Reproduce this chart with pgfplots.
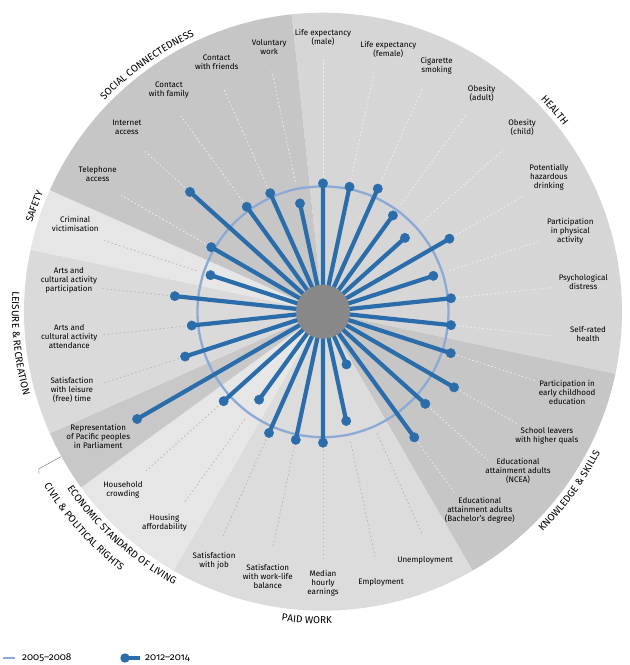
\documentclass[border=0pt]{standalone}
\usepackage{fontspec}
\setmainfont{Fira Sans}
\newfontfamily\domfont{Fira Sans}
\usepackage{pgfplots}
\pgfplotsset{compat=1.18}
\usetikzlibrary{decorations.text}
\definecolor{spoke}{HTML}{2B6DAA}
\definecolor{base}{HTML}{8DA9D6}
\definecolor{hub}{HTML}{888888}
\definecolor{cHealth}{HTML}{D6D6D6}
\definecolor{cKnow}{HTML}{C6C6C6}
\definecolor{cWork}{HTML}{DCDCDC}
\definecolor{cEcon}{HTML}{E6E6E6}
\definecolor{cCivil}{HTML}{C8C8C8}
\definecolor{cLeis}{HTML}{DADADA}
\definecolor{cSafe}{HTML}{E6E6E6}
\definecolor{cSoc}{HTML}{C6C6C6}
\definecolor{leadW}{HTML}{F2F2F2}
\definecolor{leadG}{HTML}{B4B4B4}
\newcommand\lab{\fontsize{8}{9}\selectfont}
\newcommand\dom{\domfont\fontsize{10}{11}\selectfont}
\begin{document}
\begin{tikzpicture}[x=1pt,y=1pt]
% domain sectors
\foreach \a/\b/\c in {96/-12/cHealth, -12/-60/cKnow, -60/-120/cWork, -120/-144/cEcon, -144/-156/cCivil, -156/-192/cLeis, 168/156/cSafe, 156/96/cSoc}
  \fill[\c] (0,0) -- (\a:299pt) arc[start angle=\a, end angle=\b, radius=299pt] -- cycle;
% leader lines
\foreach \a/\s/\e/\c in {90/135/252/leadW, 78/135/246/leadW, 66/142/245/leadW, 54/133/242/leadW, 42/133/242/leadW, 30/153/232/leadW, 18/133/228/leadW, 6/136/230/leadW, -6/136/234/leadW, -18/141/225/leadW, -30/158/225/leadW, -42/145/223/leadW, -54/162/225/leadW, -66/133/243/leadG, -78/133/253/leadG, -90/138/250/leadG, -102/138/242/leadG, -114/140/246/leadG, -126/133/236/leadG, -138/141/238/leadG, -162/152/231/leadG, -174/139/223/leadG, 174/156/224/leadG, 162/133/231/leadG, 150/136/233/leadW, 138/186/240/leadW, 126/137/242/leadW, 114/137/245/leadW, 102/133/246/leadW}
  \draw[\c, line width=0.7pt, dash pattern=on 1.5pt off 2.5pt] (\a:\s pt) -- (\a:\e pt);
\begin{axis}[anchor=origin, at={(0,0)}, x=1pt, y=1pt,
  xmin=-323, xmax=307, ymin=-353, ymax=312,
  hide axis, clip=false]
% 2005-2008 baseline (every indicator at the reference level)
\addplot[base, line width=2.3pt, smooth, data cs=polar] coordinates {
(90,125.6) (78,125.6) (66,125.6) (54,125.6) (42,125.6) (30,125.6) (18,125.6) (6,125.6)
(-6,125.6) (-18,125.6) (-30,125.6) (-42,125.6) (-54,125.6) (-66,125.6) (-78,125.6)
(-90,125.6) (-102,125.6) (-114,125.6) (-126,125.6) (-138,125.6) (-150,125.6) (-162,125.6)
(-174,125.6) (-186,125.6) (-198,125.6) (-210,125.6) (-222,125.6) (-234,125.6) (-246,125.6)
(-258,125.6) (-270,125.6)};
% 2012-2014 spokes
\addplot[spoke, line width=4.2pt, data cs=polar, empty line=jump, unbounded coords=jump] table {
a r
90 20
90 128.3

78 20
78 127.7

66 20
66 134.7

54 20
54 119

42 20
42 110.3

30 20
30 146

18 20
18 116

6 20
6 128.7

-6 20
-6 128.7

-18 20
-18 134.3

-30 20
-30 151.3

-42 20
-42 137.7

-54 20
-54 155.3

-66 20
-66 57.7

-78 20
-78 111.7

-90 20
-90 131

-102 20
-102 131

-114 20
-114 132.7

-126 20
-126 108.7

-138 20
-138 133.7

-150 20
-150 214.6

-162 20
-162 145

-174 20
-174 132

174 20
174 149

162 20
162 118.3

150 20
150 129

138 20
138 179

126 20
126 129.7

114 20
114 129.7

102 20
102 110.7
};
\addplot[only marks, mark=*, mark size=4.7pt, spoke, data cs=polar] table {
a r
90 128.3
78 127.7
66 134.7
54 119
42 110.3
30 146
18 116
6 128.7
-6 128.7
-18 134.3
-30 151.3
-42 137.7
-54 155.3
-66 57.7
-78 111.7
-90 131
-102 131
-114 132.7
-126 108.7
-138 133.7
-150 214.6
-162 145
-174 132
174 149
162 118.3
150 129
138 179
126 129.7
114 129.7
102 110.7
};
\end{axis}
% hub
\fill[hub] (0,0) circle (27pt);
% indicator labels
\foreach \a/\r/\t in {
 90/274/{Life expectancy\\(male)},
 76/270/{Life expectancy\\(female)},
 65.2/271/{Cigarette\\smoking},
 54/270/{Obesity\\(adult)},
 42.7/271/{Obesity\\(child)},
 30.8/263/{Potentially\\hazardous\\drinking},
 18/260/{Participation\\in physical\\activity},
 6.6/262/{Psychological\\distress},
 -4.9/266/{Self-rated\\health},
 -18.2/257/{Participation in\\early childhood\\education},
 -29/256/{School leavers\\with higher quals},
 -39.3/252/{Educational\\attainment adults\\(NCEA)},
 -51.7/253/{Educational\\attainment adults\\(Bachelor's degree)},
 -67.7/269/{Unemployment},
 -77.9/277/{Employment},
 -90/272/{Median\\hourly\\earnings},
 -101.8/270/{Satisfaction\\with work-life\\balance},
 -113.6/272/{Satisfaction\\with job},
 -126.9/264/{Housing\\affordability},
 -138.3/268/{Household\\crowding},
 -151/257/{Representation\\of Pacific peoples\\in Parliament},
 -162.7/263/{Satisfaction\\with leisure\\(free) time},
 -174.4/255/{Arts and\\cultural activity\\attendance},
 173/256/{Arts and\\cultural activity\\participation},
 160.4/263/{Criminal\\victimisation},
 148.6/264/{Telephone\\access},
 136.8/269/{Internet\\access},
 124.8/270/{Contact\\with family},
 113.1/271/{Contact\\with friends},
 101.5/270/{Voluntary\\work}}
 \node[align=center, font=\lab, inner sep=0pt] at (\a:\r pt) {\t};
% domain labels (top half: clockwise, bottom half: counter-clockwise)
\path[decorate, decoration={text along path, text align=center, text={|\dom|SOCIAL CONNECTEDNESS}}] (145:304pt) arc[start angle=145, end angle=106, radius=304pt];
\path[decorate, decoration={text along path, text align=center, text={|\dom|HEALTH}}] (60:304pt) arc[start angle=60, end angle=22, radius=304pt];
\path[decorate, decoration={text along path, text align=center, text={|\dom|SAFETY}}] (172:304pt) arc[start angle=172, end angle=148, radius=304pt];
\path[decorate, decoration={text along path, text align=center, text={|\dom|KNOWLEDGE {\&} SKILLS}}] (-62:311pt) arc[start angle=-62, end angle=-10, radius=311pt];
\path[decorate, decoration={text along path, text align=center, text={|\dom|PAID WORK}}] (-110:312pt) arc[start angle=-110, end angle=-76, radius=312pt];
\path[decorate, decoration={text along path, text align=center, text={|\dom|ECONOMIC STANDARD OF LIVING}}] (-152:311pt) arc[start angle=-152, end angle=-112, radius=311pt];
\path[decorate, decoration={text along path, text align=center, text={|\dom|CIVIL {\&} POLITICAL RIGHTS}}] (-156:329pt) arc[start angle=-156, end angle=-120, radius=329pt];
\path[decorate, decoration={text along path, text align=center, text={|\dom|LEISURE {\&} RECREATION}}] (152:311pt) arc[start angle=152, end angle=220, radius=311pt];
% connector for civil & political rights
\draw[gray, line width=0.5pt] (-262,-145) -- (-284,-157) -- (-284,-162);
% legend
\draw[base, line width=2.3pt] (-320,-346.3) -- (-308,-346.3);
\node[anchor=west, inner sep=0pt, font=\fontsize{10}{11}\selectfont\addfontfeatures{Numbers=OldStyle}] at (-301,-346.3) {2005–2008};
\draw[spoke, line width=4pt] (-198,-346.3) -- (-183,-346.3);
\fill[spoke] (-198,-346.3) circle (4.7pt);
\node[anchor=west, inner sep=0pt, font=\fontsize{10}{11}\selectfont\addfontfeatures{Numbers=OldStyle}] at (-178,-346.3) {2012–2014};
% page frame
\pgfresetboundingbox
\path (-323,-353.3) rectangle (307,311.7);
\end{tikzpicture}
\end{document}
